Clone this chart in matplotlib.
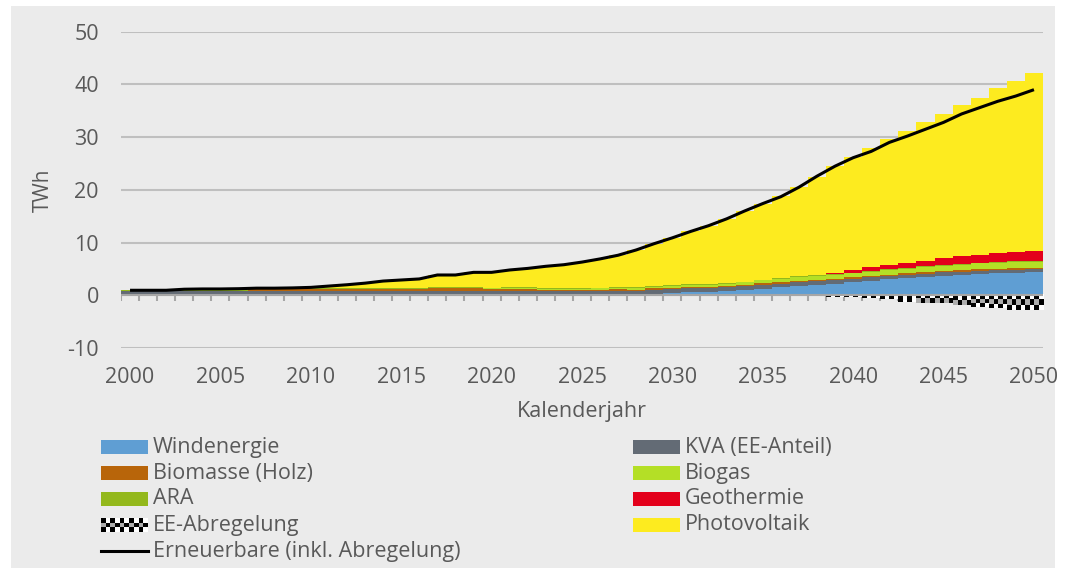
import numpy as np
import matplotlib.pyplot as plt
from matplotlib.patches import Rectangle
from matplotlib.lines import Line2D

plt.rcParams['font.family'] = ['Open Sans', 'DejaVu Sans']
plt.rcParams['axes.unicode_minus'] = False

years = np.arange(2000, 2051)

wind = [0, 0, 0, 0, 0, 0, 0, 0, 0, 0.02,
        0.02, 0.02, 0.02, 0.02, 0.02, 0.02, 0.02, 0.05, 0.05, 0.05,
        0.05, 0.08, 0.08, 0.08, 0.08, 0.08, 0.08, 0.08, 0.08, 0.3,
        0.35, 0.55, 0.6, 0.75, 0.95, 1.27, 1.5, 1.84, 2.0, 2.2,
        2.47, 2.78, 3.04, 3.3, 3.5, 3.73, 3.9, 4.1, 4.2, 4.3, 4.35]
kva = [0.8, 0.8, 0.8, 0.8, 0.8, 0.8, 0.8, 0.8, 0.8, 0.8,
       0.8, 0.8, 0.8, 0.8, 0.8, 0.8, 0.8, 0.8, 0.8, 0.8,
       0.8, 0.8, 0.8, 0.75, 0.75, 0.75, 0.75, 0.75, 0.75, 0.75,
       0.75, 0.75, 0.75, 0.75, 0.75, 0.75, 0.72, 0.7, 0.7, 0.68,
       0.67, 0.65, 0.65, 0.63, 0.62, 0.6, 0.6, 0.58, 0.58, 0.57, 0.57]
biomasse = [0.05, 0.05, 0.05, 0.05, 0.05, 0.05, 0.05, 0.3, 0.3, 0.3,
            0.3, 0.3, 0.3, 0.3, 0.3, 0.3, 0.3, 0.45, 0.45, 0.45,
            0.35, 0.35, 0.35, 0.25, 0.25, 0.25, 0.25, 0.35, 0.25, 0.25,
            0.25, 0.25, 0.25, 0.25, 0.25, 0.25, 0.25, 0.25, 0.25, 0.25,
            0.25, 0.25, 0.25, 0.25, 0.25, 0.25, 0.25, 0.25, 0.25, 0.25, 0.25]
biogas = [0.05, 0.05, 0.05, 0.05, 0.05, 0.05, 0.05, 0.05, 0.05, 0.05,
          0.08, 0.08, 0.08, 0.08, 0.08, 0.08, 0.08, 0.12, 0.12, 0.12,
          0.12, 0.15, 0.15, 0.18, 0.2, 0.2, 0.22, 0.25, 0.28, 0.35,
          0.38, 0.4, 0.42, 0.45, 0.5, 0.55, 0.6, 0.65, 0.7, 0.72,
          0.75, 0.8, 0.85, 0.9, 0.95, 1.0, 1.05, 1.1, 1.15, 1.2, 1.22]
ara = [0.15] * 51
geothermie = [0, 0, 0, 0, 0, 0, 0, 0, 0, 0,
              0, 0, 0, 0, 0, 0, 0, 0, 0, 0,
              0, 0, 0, 0, 0, 0, 0, 0, 0, 0,
              0, 0, 0, 0, 0, 0, 0, 0, 0, 0.3,
              0.5, 0.7, 0.75, 0.95, 1.1, 1.25, 1.45, 1.5, 1.65, 1.7, 1.9]
abregelung = [0, 0, 0, 0, 0, 0, 0, 0, 0, 0,
              0, 0, 0, 0, 0, 0, 0, 0, 0, 0,
              0, 0, 0, 0, 0, 0, 0, 0, 0, 0,
              0, 0, 0, 0, 0, 0, -0.05, -0.1, -0.15, -0.3,
              -0.3, -0.6, -0.7, -1.25, -1.55, -1.55, -1.8, -2.2, -2.4, -2.85, -2.85]
pv = [0, 0, 0, 0.05, 0.1, 0.1, 0.15, 0.05, 0.05, 0.1,
      0.15, 0.4, 0.65, 0.95, 1.35, 1.55, 1.75, 2.28, 2.28, 2.78,
      2.88, 3.27, 3.57, 4.09, 4.37, 4.87, 5.45, 6.02, 7.09, 8.0,
      9.02, 10.0, 11.03, 12.15, 13.3, 14.33, 15.68, 17.01, 18.7, 20.3,
      21.41, 22.67, 23.91, 25.02, 26.23, 27.42, 28.7, 29.82, 31.32, 32.53, 33.66]
erneuerbare = [0.95, 0.95, 0.95, 1.15, 1.2, 1.2, 1.25, 1.35, 1.35, 1.4,
               1.5, 1.75, 2.0, 2.3, 2.7, 2.9, 3.1, 3.85, 3.85, 4.35,
               4.35, 4.8, 5.1, 5.5, 5.8, 6.3, 6.9, 7.6, 8.6, 9.8,
               10.9, 12.1, 13.2, 14.5, 16.0, 17.4, 18.7, 20.5, 22.6, 24.5,
               26.1, 27.3, 29.0, 30.2, 31.5, 32.8, 34.4, 35.6, 36.8, 37.8, 39.0]

W, H = 1067, 571
BG = '#ebebeb'
TXT = '#595959'

stack = [
    ('Windenergie', wind, '#5f9ed3'),
    ('KVA (EE-Anteil)', kva, '#636b75'),
    ('Biomasse (Holz)', biomasse, '#b8650a'),
    ('Biogas', biogas, '#b4df26'),
    ('ARA', ara, '#93b81c'),
    ('Geothermie', geothermie, '#e3001b'),
    ('Photovoltaik', pv, '#fdeb1f'),
]


def checker(rows, cols):
    img = np.ones((rows, cols, 3))
    for i in range(rows):
        for j in range(cols):
            if (i + j) % 2 == 0:
                img[i, j] = 0.0
            elif i % 2:
                img[i, j] = 0.68
    return img


fig = plt.figure(figsize=(W / 100, H / 100), dpi=100)
fig.patch.set_facecolor('white')
fig.add_artist(Rectangle((11 / W, 1 - 568 / H), (1055 - 11) / W, (568 - 6) / H,
                         transform=fig.transFigure, facecolor=BG, edgecolor='none', zorder=-10))

ax = fig.add_axes([121 / W, 1 - 348 / H, 922 / W, (348 - 31.7) / H])
ax.set_facecolor('none')

bottom = np.zeros(len(years))
for name, vals, col in stack:
    vals = np.array(vals, dtype=float)
    ax.bar(years, vals, width=1.0, bottom=bottom, color=col, linewidth=0, zorder=2)
    bottom += vals

# curtailment drawn as checker pattern below zero
for yr, c in zip(years, abregelung):
    if c < 0:
        rows = max(1, int(round(-c / 0.85)))
        ax.imshow(checker(rows, 4), extent=(yr - 0.5, yr + 0.5, c, 0),
                  aspect='auto', interpolation='nearest', zorder=2.5)

ax.vlines(np.arange(1999.5, 2051), -1.15, 0, color='#a6a6a6', lw=1.5, zorder=1.5)
ax.axhline(0, color='#a6a6a6', lw=1.5, zorder=2.6)
ax.plot(years, erneuerbare, color='black', lw=2.2, zorder=3, solid_capstyle='butt')

ax.set_xlim(1999.5, 2050.5)
ax.set_ylim(-10, 50)
ax.set_yticks(range(-10, 51, 10))
ax.set_xticks(range(2000, 2051, 5))
ax.yaxis.grid(True, color='#bfbfbf', lw=1.5)
ax.set_axisbelow(True)
for s in ax.spines.values():
    s.set_visible(False)
ax.tick_params(axis='both', length=0, labelsize=15.5, labelcolor=TXT)
ax.tick_params(axis='y', pad=16)
ax.tick_params(axis='x', pad=14)

fig.text(43.5 / W, 1 - 190 / H, 'TWh', rotation=90, ha='center', va='center', fontsize=15, color=TXT)
fig.text(582 / W, 1 - 411 / H, 'Kalenderjahr', ha='center', va='center', fontsize=15.5, color=TXT)

# legend, two columns
legend_items = [
    ('Windenergie', '#5f9ed3', 'bar'), ('KVA (EE-Anteil)', '#636b75', 'bar'),
    ('Biomasse (Holz)', '#b8650a', 'bar'), ('Biogas', '#b4df26', 'bar'),
    ('ARA', '#93b81c', 'bar'), ('Geothermie', '#e3001b', 'bar'),
    ('EE-Abregelung', None, 'check'), ('Photovoltaik', '#fdeb1f', 'bar'),
    ('Erneuerbare (inkl. Abregelung)', 'black', 'line'),
]
col_x = [101, 633]
row_y = [447, 473, 499, 525, 551]
for k, (label, col, kind) in enumerate(legend_items):
    x0 = col_x[k % 2]
    yc = row_y[k // 2]
    if kind == 'bar':
        fig.add_artist(Rectangle((x0 / W, 1 - (yc + 7) / H), 47 / W, 14 / H,
                                 transform=fig.transFigure, facecolor=col, edgecolor='none'))
    elif kind == 'check':
        lax = fig.add_axes([x0 / W, 1 - (yc + 7) / H, 47 / W, 14 / H])
        lax.imshow(checker(3, 10), aspect='auto', interpolation='nearest')
        lax.axis('off')
    else:
        fig.add_artist(Line2D([x0 / W, (x0 + 47) / W], [1 - yc / H, 1 - yc / H],
                              transform=fig.transFigure, color=col, lw=2.2))
    fig.text((x0 + 52) / W, 1 - yc / H, label, ha='left', va='center', fontsize=15.5, color=TXT)

fig.savefig('out.png', dpi=100, facecolor=fig.get_facecolor())
